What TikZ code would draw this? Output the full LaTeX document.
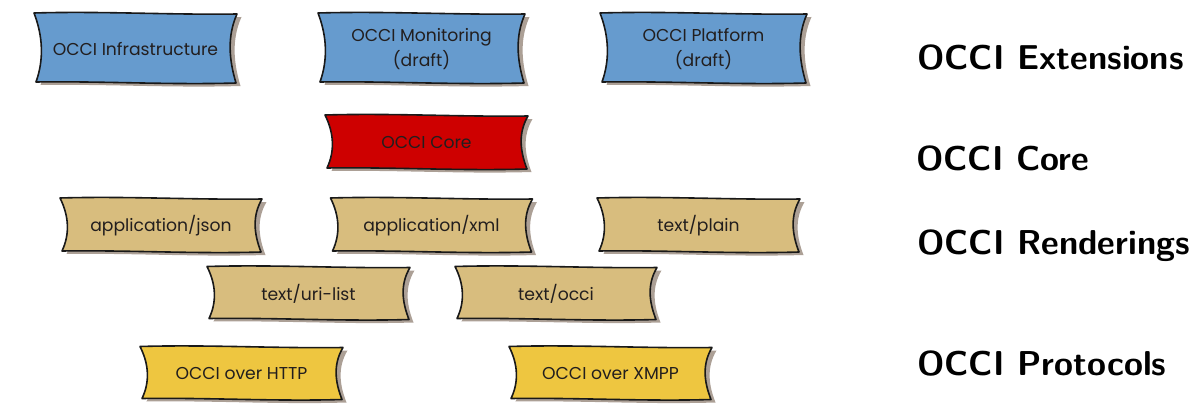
\documentclass[tikz,border=0pt]{standalone}
\usepackage{fontspec}
\newfontfamily\boxfont{Poppins}
\definecolor{cblue}{RGB}{102,155,206}
\definecolor{cred}{RGB}{206,0,0}
\definecolor{ctan}{RGB}{216,189,126}
\definecolor{cyel}{RGB}{238,198,64}
\definecolor{cshadow}{RGB}{172,160,150}
\definecolor{ctext}{RGB}{34,30,30}
\tikzset{
  boxtext/.style={align=center, text=ctext, font=\boxfont\fontsize{17.2}{25}\selectfont, inner sep=0pt},
  layerlabel/.style={anchor=base west, inner sep=0pt, font=\sffamily\bfseries\fontsize{34.5}{40}\selectfont},
  bannerline/.style={draw=black!90, line width=1.6pt, line join=round}
}
% name, cx, cy, a (half width), b (half height), colour, text
\newcommand\banner[7]{%
  \begin{scope}[shift={(#2,#3)}]
    \fill[cshadow, shift={(4.5,3)}]
      ({-#4},{-#5}) .. controls ({-#4/3},{-#5-2}) and ({#4/3},{-#5+2}) .. ({#4},{-#5+1})
      .. controls ({#4-10},{-#5/3}) and ({#4-8},{#5/3}) .. ({#4-1},{#5})
      .. controls ({#4/3},{#5+2}) and ({-#4/3},{#5-2}) .. ({-#4+2},{#5-1})
      .. controls ({-#4+10},{#5/3}) and ({-#4+9},{-#5/3}) .. cycle;
    \filldraw[fill=#6, bannerline]
      ({-#4},{-#5}) .. controls ({-#4/3},{-#5-2}) and ({#4/3},{-#5+2}) .. ({#4},{-#5+1})
      .. controls ({#4-10},{-#5/3}) and ({#4-8},{#5/3}) .. ({#4-1},{#5})
      .. controls ({#4/3},{#5+2}) and ({-#4/3},{#5-2}) .. ({-#4+2},{#5-1})
      .. controls ({-#4+10},{#5/3}) and ({-#4+9},{-#5/3}) .. cycle;
  \end{scope}
  \node[boxtext] (#1) at (#2,{#3+1}) {#7};
}
\begin{document}
\begin{tikzpicture}[x=1pt,y=-1pt]
\useasboundingbox (0,0) rectangle (1198,412);
\banner{infra}{135.5}{48}{101.5}{35}{cblue}{OCCI Infrastructure}
\banner{monit}{421.5}{48}{103.5}{35}{cblue}{OCCI Monitoring\\(draft)}
\banner{platf}{703.5}{48}{103.5}{35}{cblue}{OCCI Platform\\(draft)}
\banner{core}{426.5}{142}{101.5}{27}{cred}{OCCI Core}
\banner{json}{161}{225}{101}{27}{ctan}{application/json}
\banner{xml}{431.5}{225}{101}{27}{ctan}{application/xml}
\banner{plain}{698.5}{225}{101.5}{27}{ctan}{text/plain}
\banner{urilist}{308.5}{293}{101.5}{26.5}{ctan}{text/uri-list}
\banner{tocci}{556}{293}{101}{26.5}{ctan}{text/occi}
\banner{http}{241.5}{373}{101.5}{26.5}{cyel}{OCCI over HTTP}
\banner{xmpp}{610.5}{373}{101.5}{26.5}{cyel}{OCCI over XMPP}
\node[layerlabel] (lext) at (917,70) {OCCI Extensions};
\node[layerlabel] (lcore) at (916,170) {OCCI Core};
\node[layerlabel] (lrend) at (917,254) {OCCI Renderings};
\node[layerlabel] (lprot) at (917,375) {OCCI Protocols};
\end{tikzpicture}
\end{document}
